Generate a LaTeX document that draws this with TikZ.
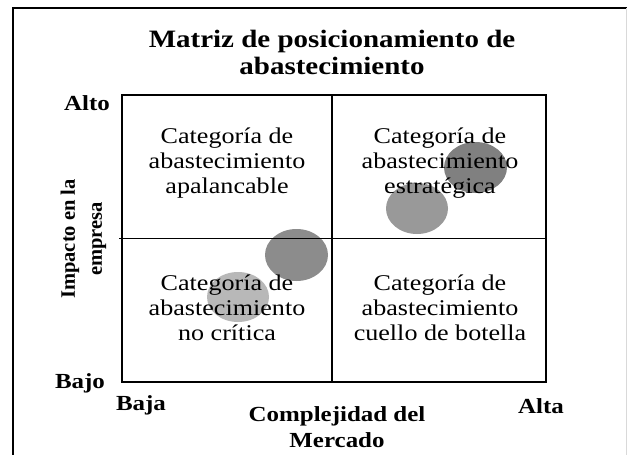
\documentclass[tikz,border=0pt]{standalone}
\usepackage{fontspec}
\setmainfont{Liberation Serif}
\begin{document}
\begin{tikzpicture}[x=1pt,y=-1pt,
  cell/.style={align=center,font=\fontsize{22.5}{25}\selectfont,inner sep=0pt,xscale=1.16},
  lab/.style={font=\bfseries\fontsize{21.5}{26}\selectfont,inner sep=0pt,xscale=1.16},
  grid/.style={line width=1.4pt}]
\useasboundingbox (0,0) rectangle (627,455);
\fill[white] (0,0) rectangle (627,455);
% outer frame
\draw[line width=2pt] (13,455) -- (13,7.5) -- (627,7.5);
\draw[black!15,line width=0.8pt] (626,8) -- (626,455);
% title
\node[font=\bfseries\fontsize{25}{27}\selectfont,align=center,inner sep=0pt,xscale=1.16] (title) at (332,52) {Matriz de posicionamiento de\\abastecimiento};
% ellipses
\fill[black!28] (238,297) ellipse [x radius=31, y radius=25];
\fill[black!45] (296.5,255) ellipse [x radius=31.5, y radius=26];
\fill[black!40] (417,208.5) ellipse [x radius=31, y radius=25.5];
\fill[black!50] (475.5,167.5) ellipse [x radius=31.5, y radius=25.5];
% matrix
\coordinate (tl) at (122,95);
\coordinate (br) at (546,382);
\draw[grid] (tl) rectangle (br);
\draw[grid] (332,95) -- (332,382);
\draw[grid] (119,238.5) -- (546,238.5);
% cells
\node[cell] (c1) at (227,163) {Categoría de\\abastecimiento\\apalancable};
\node[cell] (c2) at (440,163) {Categoría de\\abastecimiento\\estratégica};
\node[cell] (c3) at (227,308) {Categoría de\\abastecimiento\\no crítica};
\node[cell] (c4) at (440,308) {Categoría de\\abastecimiento\\cuello de botella};
% labels
\node[lab] (alto) at (87,103) {Alto};
\node[lab] (bajo) at (80,383) {Bajo};
\node[lab] (baja) at (141,405) {Baja};
\node[lab] (alta) at (541,406) {Alta};
\node[lab,align=center] (xl) at (337,427) {Complejidad del\\Mercado};
\node[align=center,inner sep=0pt,rotate=90,font=\bfseries\fontsize{20.5}{27}\selectfont] (yl) at (83.5,239) {Impacto en la\\empresa};
\end{tikzpicture}
\end{document}
